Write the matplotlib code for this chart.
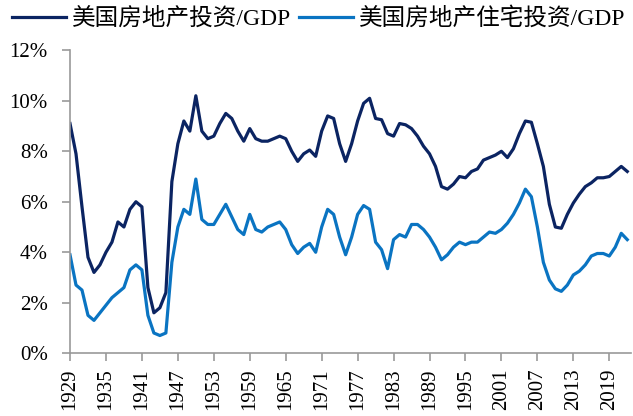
import numpy as np
import matplotlib
matplotlib.use("Agg")
import matplotlib.pyplot as plt

plt.rcParams['font.family'] = ['Liberation Serif', 'Noto Sans CJK SC']

years = list(range(1929, 2023))

# 美国房地产投资/GDP (%)
total_inv = [
    9.1, 7.9, 5.8, 3.8, 3.2, 3.5, 4.0, 4.4, 5.2, 5.0,
    5.7, 6.0, 5.8, 2.6, 1.6, 1.8, 2.4, 6.8, 8.3, 9.2,
    8.8, 10.2, 8.8, 8.5, 8.6, 9.1, 9.5, 9.3, 8.8, 8.4,
    8.9, 8.5, 8.4, 8.4, 8.5, 8.6, 8.5, 8.0, 7.6, 7.9,
    8.05, 7.8, 8.8, 9.4, 9.3, 8.3, 7.6, 8.3, 9.2, 9.9,
    10.1, 9.3, 9.25, 8.7, 8.6, 9.1, 9.05, 8.9, 8.6, 8.2,
    7.9, 7.4, 6.6, 6.5, 6.7, 7.0, 6.95, 7.2, 7.3, 7.65,
    7.75, 7.85, 8.0, 7.75, 8.1, 8.7, 9.2, 9.15, 8.3, 7.4,
    5.9, 5.0, 4.95, 5.5, 5.95, 6.3, 6.6, 6.75, 6.95, 6.95,
    7.0, 7.2, 7.4, 7.2,
]

# 美国房地产住宅投资/GDP (%)
resid_inv = [
    3.9, 2.7, 2.5, 1.5, 1.3, 1.6, 1.9, 2.2, 2.4, 2.6,
    3.3, 3.5, 3.3, 1.5, 0.8, 0.7, 0.8, 3.6, 5.0, 5.7,
    5.5, 6.9, 5.3, 5.1, 5.1, 5.5, 5.9, 5.4, 4.9, 4.7,
    5.5, 4.9, 4.8, 5.0, 5.1, 5.2, 4.9, 4.3, 3.95, 4.2,
    4.35, 4.0, 5.0, 5.7, 5.5, 4.6, 3.9, 4.6, 5.5, 5.85,
    5.7, 4.4, 4.1, 3.35, 4.5, 4.7, 4.6, 5.1, 5.1, 4.9,
    4.6, 4.2, 3.7, 3.9, 4.2, 4.4, 4.3, 4.4, 4.4, 4.6,
    4.8, 4.75, 4.9, 5.15, 5.5, 5.95, 6.5, 6.2, 5.0, 3.6,
    2.9, 2.55, 2.45, 2.7, 3.1, 3.25, 3.5, 3.85, 3.95, 3.95,
    3.85, 4.2, 4.75, 4.5,
]

tick_years = list(range(1929, 2020, 6))

fig = plt.figure(figsize=(6.33, 4.16), dpi=100)
ax = fig.add_axes([0.1106, 0.151, 0.886, 0.728])

ax.plot(years, total_inv, color="#0b2462", lw=2.3, label="美国房地产投资/GDP")
ax.plot(years, resid_inv, color="#0a74c2", lw=2.3, label="美国房地产住宅投资/GDP")

ax.set_xlim(1929, 2022.6)
ax.set_ylim(0, 12)
ax.set_yticks(range(0, 13, 2))
ax.set_yticklabels([f"{v}%" for v in range(0, 13, 2)], fontsize=15)
ax.set_xticks(tick_years)
ax.set_xticklabels([str(y) for y in tick_years], rotation=90, fontsize=15)

for s in ["top", "right"]:
    ax.spines[s].set_visible(False)
for s in ["left", "bottom"]:
    ax.spines[s].set_color("#999999")
    ax.spines[s].set_linewidth(1.2)
ax.tick_params(axis="both", colors="#999999", length=6, width=1.2, labelcolor="black")
ax.tick_params(axis="y", pad=10)
ax.tick_params(axis="x", pad=5)

fig.legend(loc="upper left", bbox_to_anchor=(12 / 633, 1 - 7 / 416), ncol=2, frameon=False,
           fontsize=17, handlelength=2.3, handletextpad=0.25, columnspacing=0.3,
           borderpad=0, borderaxespad=0)

fig.savefig("out.png", dpi=100)
